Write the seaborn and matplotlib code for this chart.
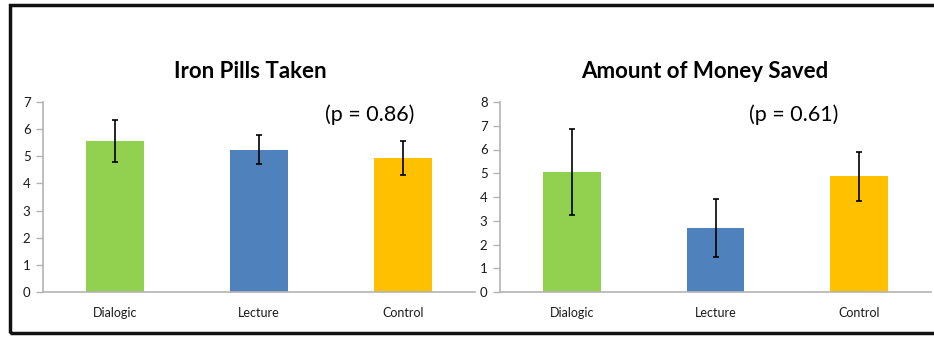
import matplotlib
matplotlib.use("Agg")
import matplotlib.pyplot as plt
import seaborn as sns
import pandas as pd
from matplotlib.patches import Rectangle

categories = ["Dialogic", "Lecture", "Control"]
colors = ["#92D050", "#4F81BD", "#FFC000"]

iron_values = [5.55, 5.25, 4.93]
iron_errors = [0.77, 0.53, 0.62]
iron_title = "Iron Pills Taken"
iron_p = "(p = 0.86)"
iron_yticks = [0, 1, 2, 3, 4, 5, 6, 7]

money_values = [5.07, 2.69, 4.87]
money_errors = [1.81, 1.23, 1.03]
money_title = "Amount of Money Saved"
money_p = "(p = 0.61)"
money_yticks = [0, 1, 2, 3, 4, 5, 6, 7, 8]

sns.set_theme(style="white")
plt.rcParams["font.family"] = ["Lato", "DejaVu Sans"]

W, H = 934, 337
fig = plt.figure(figsize=(W / 100, H / 100), dpi=100)

axis_grey = "#B3B3B3"
text_col = "#1A1A1A"


def panel(rect, values, errors, title, ptext, yticks, title_x, p_x):
    ax = fig.add_axes(rect)
    df = pd.DataFrame({"cat": categories, "val": values})
    sns.barplot(data=df, x="cat", y="val", hue="cat", palette=colors,
                width=0.4, errorbar=None, legend=False, ax=ax,
                saturation=1, linewidth=0)
    ax.errorbar(range(len(categories)), values, yerr=errors, fmt="none",
                ecolor="black", elinewidth=1.2, capsize=2.5, capthick=1.2)
    ax.set_xlim(-0.5, len(categories) - 0.5)
    ax.set_ylim(0, max(yticks))
    ax.set_yticks(yticks)
    ax.set_yticklabels([str(t) for t in yticks], fontsize=9.5, color=text_col)
    ax.set_xlabel("")
    ax.set_ylabel("")
    ax.set_xticks(range(len(categories)))
    ax.set_xticklabels(categories, fontsize=9, color=text_col)
    ax.set_xticks([i - 0.5 for i in range(len(categories) + 1)], minor=True)
    ax.tick_params(axis="x", which="major", length=0, pad=11)
    ax.tick_params(axis="x", which="minor", length=5, width=1,
                   color=axis_grey, direction="out")
    ax.tick_params(axis="y", which="major", length=5, width=1,
                   color=axis_grey, direction="out", pad=4, left=True)
    for s in ["top", "right"]:
        ax.spines[s].set_visible(False)
    for s in ["left", "bottom"]:
        ax.spines[s].set_color(axis_grey)
        ax.spines[s].set_linewidth(1.2)
    fig.text(title_x / W, 1 - 72 / H, title, ha="center", va="center",
             fontsize=16, fontweight="bold", color="black")
    fig.text(p_x / W, 1 - 115 / H, ptext, ha="center", va="center",
             fontsize=15.5, color="black")
    return ax


panel([43 / W, 45 / H, 432 / W, 190 / H], iron_values, iron_errors,
      iron_title, iron_p, iron_yticks, 250, 370)
panel([500 / W, 45 / H, 431 / W, 190 / H], money_values, money_errors,
      money_title, money_p, money_yticks, 705, 794)

# outer frame
fig.patches.append(Rectangle((10 / W, 4 / H), 940 / W, 328 / H,
                             transform=fig.transFigure, fill=False,
                             edgecolor="#111111", linewidth=2.5))

fig.savefig("out.png", dpi=100)
